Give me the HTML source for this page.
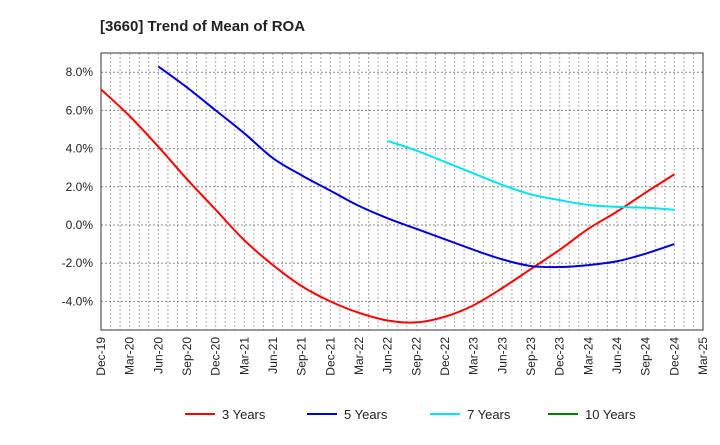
<!DOCTYPE html>
<html><head><meta charset="utf-8"><style>
body{margin:0;background:#fff;font-family:"Liberation Sans",Arial,sans-serif}
svg text{font-family:"Liberation Sans",Arial,sans-serif}
</style></head><body>
<svg id="chart" width="720" height="440">
<text x="100" y="31" font-size="15" font-weight="bold" fill="#222">[3660]  Trend of Mean of ROA</text>
<g id="grid"></g>
<g id="axes"></g>
<g id="series"></g>
<g id="legend"></g>
</svg>
<script>
const xLabels=["Dec-19","Mar-20","Jun-20","Sep-20","Dec-20","Mar-21","Jun-21","Sep-21","Dec-21","Mar-22","Jun-22","Sep-22","Dec-22","Mar-23","Jun-23","Sep-23","Dec-23","Mar-24","Jun-24","Sep-24","Dec-24","Mar-25"];
const yTicks=[-4,-2,0,2,4,6,8];
const s3=[7.1,5.7,4.1,2.4,0.8,-0.8,-2.1,-3.2,-4.0,-4.6,-5.0,-5.1,-4.8,-4.2,-3.3,-2.3,-1.3,-0.2,0.7,1.7,2.65];
const s3Start=0;
const s5=[8.3,7.2,6.0,4.8,3.5,2.6,1.8,1.0,0.35,-0.2,-0.75,-1.3,-1.8,-2.15,-2.2,-2.1,-1.9,-1.5,-1.0];
const s5Start=2;
const s7=[4.4,3.9,3.3,2.7,2.1,1.6,1.3,1.05,0.95,0.9,0.8];
const s7Start=10;
const s10=[];
const s10Start=0;
const L=101,R=703,T=53,B=330;
const X=i=>L+i*(R-L)/(xLabels.length-1);
const Y=v=>225-v*19.1;
const NS="http://www.w3.org/2000/svg";
function mk(tag,attrs,parent,text){const e=document.createElementNS(NS,tag);for(const k in attrs)e.setAttribute(k,attrs[k]);if(text!==undefined)e.textContent=text;document.getElementById(parent).appendChild(e);return e;}
// vertical monthly grid
for(let m=1;m<(xLabels.length-1)*3;m++){const x=L+m*(R-L)/((xLabels.length-1)*3);
const g=mk('line',{x1:x,x2:x,y1:T,y2:B,stroke:'#aaa','stroke-dasharray':'2,2','stroke-width':1},'grid');

}
yTicks.forEach(v=>{const y=Y(v);
const g=mk('line',{x1:L,x2:R,y1:y,y2:y,stroke:'#888','stroke-dasharray':'2,2','stroke-width':1},'grid');


const t=mk('text',{x:L-8,y:y+4,'text-anchor':'end','font-size':12,fill:'#222'},'axes',v.toFixed(1)+'%');

});
const fr=mk('rect',{x:L,y:T,width:R-L,height:B-T,fill:'none',stroke:'#333','stroke-width':1},'axes');


xLabels.forEach((lb,i)=>{const x=X(i);
const t=mk('text',{x:0,y:0,'text-anchor':'end','font-size':12,fill:'#222',transform:`translate(${x+4},${B+7}) rotate(-90)`},'axes',lb);

});
function path(arr,start){if(arr.length<2)return '';const p=arr.map((v,i)=>[X(i+start),Y(v)]);let d=`M${p[0][0]},${p[0][1]}`;
for(let i=0;i<p.length-1;i++){const p0=p[i-1]||p[i],p1=p[i],p2=p[i+1],p3=p[i+2]||p2;
d+=` C${p1[0]+(p2[0]-p0[0])/6},${p1[1]+(p2[1]-p0[1])/6} ${p2[0]-(p3[0]-p1[0])/6},${p2[1]-(p3[1]-p1[1])/6} ${p2[0]},${p2[1]}`;}return d;}
[[s3,s3Start,'#ff0000','series-3-years'],[s5,s5Start,'#0000dd','series-5-years'],[s7,s7Start,'#00e5ee','series-7-years'],[s10,s10Start,'#008000','series-10-years']].forEach(([a,s,c,n])=>{
if(a.length<2)return;const e=mk('path',{d:path(a,s),fill:'none',stroke:c,'stroke-width':2},'series');

});
[['3 Years','#ff0000',185],['5 Years','#0000dd',307],['7 Years','#00e5ee',430],['10 Years','#008000',548]].forEach(([t,c,x])=>{
const l=mk('line',{x1:x,x2:x+30,y1:414,y2:414,stroke:c,'stroke-width':2},'legend');


const tx=mk('text',{x:x+37,y:419,'font-size':13,fill:'#222'},'legend',t);

});
</script>
</body></html>
